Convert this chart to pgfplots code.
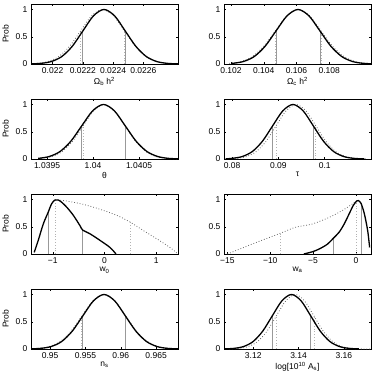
\documentclass[border=0pt]{standalone}
\usepackage{fontspec}
\setmainfont{Liberation Sans}
\usepackage{pgfplots}
\pgfplotsset{compat=1.18}
\pgfplotsset{
  panel/.style={scale only axis, width=147pt, height=60pt, anchor=north west,
    ymin=0, ymax=1.1, ytick={0,0.5,1}, yticklabels={0,0.5,1},
    tick align=inside, tick pos=both, major tick length=2pt,
    axis line style={line width=0.5pt}, every tick/.style={black, line width=0.4pt},
    tick label style={font=\fontsize{8.5}{9}\selectfont},
    label style={font=\fontsize{8.5}{9}\selectfont},
    xlabel style={yshift=3pt}, scaled ticks=false},
  post/.style={black, line width=1.3pt, smooth},
  prior/.style={black!60, dotted, line width=0.8pt, smooth},
  lpost/.style={black!40, line width=0.8pt},
  lprior/.style={black!30, dotted, line width=0.8pt},
}
\begin{document}
\begin{tikzpicture}
\useasboundingbox (0pt,0pt) rectangle (374pt,-379pt);
% ---- row 1
\begin{axis}[panel, at={(31pt,-4pt)}, xmin=0.021857, xmax=0.022829,
  xtick={0.022,0.0222,0.0224,0.0226}, xticklabels={0.022,0.0222,0.0224,0.0226},
  xlabel={Ω\textsubscript{b} h\textsuperscript{2}}, ylabel={Prob}]
\addplot[lprior] coordinates {(0.022185,0) (0.022185,0.6065)};
\addplot[lprior] coordinates {(0.022475,0) (0.022475,0.6065)};
\addplot[lpost] coordinates {(0.0222,0) (0.0222,0.6065)};
\addplot[lpost] coordinates {(0.02248,0) (0.02248,0.6065)};
\addplot[prior] coordinates {(0.0218225,0.0022)(0.021895,0.0111)(0.0219675,0.0439)(0.02204,0.1353)(0.0221125,0.3247)(0.022185,0.6065)(0.0222575,0.8825)(0.02233,1)(0.0224025,0.8825)(0.022475,0.6065)(0.0225475,0.3247)(0.02262,0.1353)(0.0226925,0.0439)(0.022765,0.0111)(0.0228375,0.0022)};
\addplot[post] coordinates {(0.02185,0.0022)(0.02192,0.0111)(0.02199,0.0439)(0.02206,0.1353)(0.02213,0.3247)(0.02220,0.6065)(0.02227,0.8825)(0.02234,1)(0.02241,0.8825)(0.02248,0.6065)(0.02255,0.3247)(0.02262,0.1353)(0.02269,0.0439)(0.02276,0.0111)(0.02283,0.0022)};
\end{axis}
\begin{axis}[panel, at={(224pt,-4pt)}, xmin=0.10157, xmax=0.11055,
  xtick={0.102,0.104,0.106,0.108}, xticklabels={0.102,0.104,0.106,0.108},
  xlabel={Ω\textsubscript{c} h\textsuperscript{2}}]
\addplot[lprior] coordinates {(0.1047,0) (0.1047,0.6065)};
\addplot[lprior] coordinates {(0.1075,0) (0.1075,0.6065)};
\addplot[lpost] coordinates {(0.10475,0) (0.10475,0.6065)};
\addplot[lpost] coordinates {(0.10743,0) (0.10743,0.6065)};
\addplot[prior] coordinates {(0.1019,0.0111)(0.1026,0.0439)(0.1033,0.1353)(0.1040,0.3247)(0.1047,0.6065)(0.1054,0.8825)(0.1061,1)(0.1068,0.8825)(0.1075,0.6065)(0.1082,0.3247)(0.1089,0.1353)(0.1096,0.0439)(0.1103,0.0111)(0.1110,0.0022)};
\addplot[post] coordinates {(0.10207,0.0111)(0.10274,0.0439)(0.10341,0.1353)(0.10408,0.3247)(0.10475,0.6065)(0.10542,0.8825)(0.10609,1)(0.10676,0.8825)(0.10743,0.6065)(0.1081,0.3247)(0.10877,0.1353)(0.10944,0.0439)(0.11011,0.0111)(0.11078,0.0022)};
\end{axis}
% ---- row 2
\begin{axis}[panel, at={(31pt,-99pt)}, xmin=1.039326, xmax=1.040924,
  xtick={1.0395,1.04,1.0405}, xticklabels={1.0395,1.04,1.0405},
  xlabel={θ}, ylabel={Prob}]
\addplot[lprior] coordinates {(1.039892,0) (1.039892,0.6065)};
\addplot[lprior] coordinates {(1.040348,0) (1.040348,0.6065)};
\addplot[lpost] coordinates {(1.039877,0) (1.039877,0.6065)};
\addplot[lpost] coordinates {(1.040351,0) (1.040351,0.6065)};
\addplot[prior] coordinates {(1.039436,0.0111)(1.03955,0.0439)(1.039664,0.1353)(1.039778,0.3247)(1.039892,0.6065)(1.040006,0.8825)(1.04012,1)(1.040234,0.8825)(1.040348,0.6065)(1.040462,0.3247)(1.040576,0.1353)(1.04069,0.0439)(1.040804,0.0111)(1.040918,0.0022)};
\addplot[post] coordinates {(1.039403,0.0111)(1.0395215,0.0439)(1.03964,0.1353)(1.0397585,0.3247)(1.039877,0.6065)(1.0399955,0.8825)(1.040114,1)(1.0402325,0.8825)(1.040351,0.6065)(1.0404695,0.3247)(1.040588,0.1353)(1.0407065,0.0439)(1.040825,0.0111)(1.0409435,0.0022)};
\end{axis}
\begin{axis}[panel, at={(224pt,-99pt)}, xmin=0.07826, xmax=0.11,
  xtick={0.08,0.09,0.1}, xticklabels={0.08,0.09,0.1},
  xlabel={τ}]
\addplot[lprior] coordinates {(0.0895,0) (0.0895,0.6065)};
\addplot[lprior] coordinates {(0.0981,0) (0.0981,0.6065)};
\addplot[lpost] coordinates {(0.08875,0) (0.08875,0.6065)};
\addplot[lpost] coordinates {(0.09755,0) (0.09755,0.6065)};
\addplot[prior] coordinates {(0.07875,0.0022)(0.0809,0.0111)(0.08305,0.0439)(0.0852,0.1353)(0.08735,0.3247)(0.0895,0.6065)(0.09165,0.8825)(0.0938,1)(0.09595,0.8825)(0.0981,0.6065)(0.10025,0.3247)(0.1024,0.1353)(0.10455,0.0439)(0.1067,0.0111)(0.10885,0.0022)};
\addplot[post] coordinates {(0.0786,0.003)(0.07995,0.0111)(0.08215,0.0439)(0.08435,0.1353)(0.08655,0.3247)(0.08875,0.6065)(0.09095,0.8825)(0.09315,1)(0.09535,0.8825)(0.09755,0.6065)(0.09975,0.3247)(0.10195,0.1353)(0.10415,0.0439)(0.10635,0.0111)(0.10855,0.0022)};
\end{axis}
% ---- row 3
\begin{axis}[panel, at={(31pt,-194pt)}, xmin=-1.42, xmax=1.42,
  xtick={-1,0,1}, xticklabels={−1,0,1},
  xlabel={w\textsubscript{0}}, ylabel={Prob}]
\addplot[lprior] coordinates {(-0.957,0) (-0.957,1)};
\addplot[lprior] coordinates {(0.504,0) (0.504,0.58)};
\addplot[lpost] coordinates {(-1.086,0) (-1.086,0.77)};
\addplot[lpost] coordinates {(-0.422,0) (-0.422,0.44)};
\addplot[prior] coordinates {(-0.96,1)(-0.731,0.97)(-0.409,0.91)(-0.087,0.82)(0.235,0.71)(0.504,0.58)(0.749,0.43)(1.007,0.28)(1.265,0.12)(1.394,0.02)};
\addplot[post] coordinates {(-1.358,0.03)(-1.28,0.25)(-1.183,0.55)(-1.086,0.77)(-1.022,0.92)(-0.957,0.99)(-0.893,0.99)(-0.829,0.95)(-0.731,0.86)(-0.603,0.71)(-0.474,0.52)(-0.422,0.44)(-0.28,0.37)(-0.087,0.25)(0.106,0.12)(0.222,0.0)};
\end{axis}
\begin{axis}[panel, at={(224pt,-194pt)}, xmin=-15.4, xmax=1.76,
  xtick={-15,-10,-5,0}, xticklabels={−15,−10,−5,0},
  xlabel={w\textsubscript{a}}]
\addplot[lprior] coordinates {(-8.82,0) (-8.82,0.38)};
\addplot[lprior] coordinates {(0.0,0) (0.0,0.97)};
\addplot[lpost] coordinates {(-2.63,0) (-2.63,0.29)};
\addplot[lpost] coordinates {(0.59,0) (0.59,0.93)};
\addplot[prior] coordinates {(-15,0.0)(-12.15,0.18)(-8.82,0.38)(-7.06,0.49)(-5.1,0.55)(-3.14,0.67)(-1.56,0.8)(-0.39,0.92)(0.08,0.98)};
\addplot[post] coordinates {(-6.08,0)(-5.1,0.04)(-4.31,0.09)(-3.33,0.18)(-2.63,0.29)(-1.96,0.4)(-1.37,0.55)(-0.78,0.74)(-0.31,0.89)(0.08,0.97)(0.27,0.98)(0.59,0.93)(0.98,0.74)(1.37,0.43)(1.6,0.12)};
\end{axis}
% ---- row 4
\begin{axis}[panel, at={(31pt,-289pt)}, xmin=0.9473, xmax=0.9681,
  xtick={0.95,0.955,0.96,0.965}, xticklabels={0.95,0.955,0.96,0.965},
  xlabel={n\textsubscript{s}}, ylabel={Prob}]
\addplot[lprior] coordinates {(0.9545,0) (0.9545,0.6065)};
\addplot[lprior] coordinates {(0.9607,0) (0.9607,0.6065)};
\addplot[lpost] coordinates {(0.95463,0) (0.95463,0.6065)};
\addplot[lpost] coordinates {(0.96065,0) (0.96065,0.6065)};
\addplot[prior] coordinates {(0.94675,0.0022)(0.9483,0.0111)(0.94985,0.0439)(0.9514,0.1353)(0.95295,0.3247)(0.9545,0.6065)(0.95605,0.8825)(0.9576,1)(0.95915,0.8825)(0.9607,0.6065)(0.96225,0.3247)(0.9638,0.1353)(0.96535,0.0439)(0.9669,0.0111)(0.96845,0.0022)};
\addplot[post] coordinates {(0.947105,0.0022)(0.94861,0.0111)(0.950115,0.0439)(0.95162,0.1353)(0.953125,0.3247)(0.95463,0.6065)(0.956135,0.8825)(0.95764,1)(0.959145,0.8825)(0.96065,0.6065)(0.962155,0.3247)(0.96366,0.1353)(0.965165,0.0439)(0.96667,0.0111)(0.968175,0.0022)};
\end{axis}
\begin{axis}[panel, at={(224pt,-289pt)}, xmin=3.1071, xmax=3.172,
  xtick={3.12,3.14,3.16}, xticklabels={3.12,3.14,3.16},
  xlabel={log[10\textsuperscript{10} A\textsubscript{s}]}]
\addplot[lprior] coordinates {(3.1302,0) (3.1302,0.6065)};
\addplot[lprior] coordinates {(3.1468,0) (3.1468,0.6065)};
\addplot[lpost] coordinates {(3.1284,0) (3.1284,0.6065)};
\addplot[lpost] coordinates {(3.1454,0) (3.1454,0.6065)};
\addplot[prior] coordinates {(3.10945,0.0022)(3.1136,0.0111)(3.11775,0.0439)(3.1219,0.1353)(3.12605,0.3247)(3.1302,0.6065)(3.13435,0.8825)(3.1385,1)(3.14265,0.8825)(3.1468,0.6065)(3.15095,0.3247)(3.1551,0.1353)(3.15925,0.0439)(3.1634,0.0111)(3.16755,0.0022)(3.1717,0.0003)};
\addplot[post] coordinates {(3.10715,0.0022)(3.1114,0.0111)(3.11565,0.0439)(3.1199,0.1353)(3.12415,0.3247)(3.1284,0.6065)(3.13265,0.8825)(3.1369,1)(3.14115,0.8825)(3.1454,0.6065)(3.14965,0.3247)(3.1539,0.1353)(3.15815,0.0439)(3.1624,0.0111)(3.16665,0.0022)};
\end{axis}
\end{tikzpicture}
\end{document}
